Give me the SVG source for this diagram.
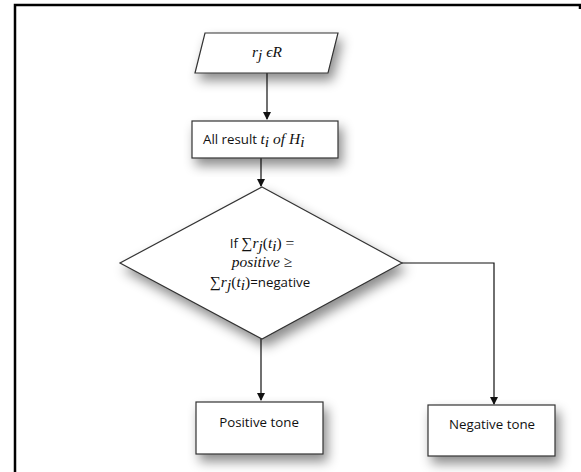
<svg xmlns="http://www.w3.org/2000/svg" width="581" height="472" viewBox="0 0 581 472">
<style>
.shape{fill:#fff;stroke:#333;stroke-width:1.2;filter:url(#sh)}
.conn{fill:none;stroke:#111;stroke-width:1.2}
.t{font-family:"Open Sans","Liberation Sans",sans-serif;font-size:13.3px;fill:#111}
.m{font-family:"Liberation Serif","DejaVu Serif",serif;font-style:italic;font-size:15.5px;fill:#111}
.mu{font-family:"Liberation Serif","DejaVu Serif",serif;font-size:15.5px;fill:#111}
</style>
<defs>
<filter id="sh" x="-20%" y="-20%" width="150%" height="170%">
<feDropShadow dx="4" dy="7" stdDeviation="6" flood-color="#000" flood-opacity="0.45"/>
</filter>
<marker id="ah" markerWidth="8" markerHeight="8" refX="7" refY="4" orient="auto" markerUnits="userSpaceOnUse">
<path d="M0,0 L8,4 L0,8 z" fill="#111"/>
</marker>
</defs>
<rect width="581" height="472" fill="#fff"/>
<path d="M15,472 V5 H580 V9" fill="none" stroke="#000" stroke-width="2.5"/>
<g id="connectors">
<path class="conn" d="M267,73 V119" marker-end="url(#ah)"/>
<path class="conn" d="M261,158 V186" marker-end="url(#ah)"/>
<path class="conn" d="M261,339 V400" marker-end="url(#ah)"/>
<path class="conn" d="M402,263 H494 V404" marker-end="url(#ah)"/>
</g>
<g id="input">
<polygon class="shape" points="205,33 338,33 328,73 195,73"/>
<text x="267" y="57" text-anchor="middle"><tspan class="m">r</tspan><tspan class="m" font-size="10.5" dy="3">j</tspan><tspan class="m" dy="-3"> ϵR</tspan></text>
</g>
<g id="results">
<rect class="shape" x="192" y="121" width="146" height="37"/>
<text x="203" y="144"><tspan class="t">All result </tspan><tspan class="m">t</tspan><tspan class="m" font-size="10.5" dy="3">i</tspan><tspan class="m" dy="-3"> of  H</tspan><tspan class="m" font-size="10.5" dy="3">i</tspan></text>
</g>
<g id="decision">
<polygon class="shape" points="262,187 402,263 262,339 120,263"/>
<text x="262" y="248" text-anchor="middle"><tspan class="t">If </tspan><tspan class="mu">∑</tspan><tspan class="m">r</tspan><tspan class="m" font-size="10.5" dy="3">j</tspan><tspan class="mu" dy="-3">(</tspan><tspan class="m">t</tspan><tspan class="m" font-size="10.5" dy="3">i</tspan><tspan class="mu" dy="-3">) =</tspan></text>
<text x="262" y="267" text-anchor="middle"><tspan class="m">positive </tspan><tspan class="mu">≥</tspan></text>
<text x="260" y="287" text-anchor="middle"><tspan class="mu">∑</tspan><tspan class="m">r</tspan><tspan class="m" font-size="10.5" dy="3">j</tspan><tspan class="mu" dy="-3">(</tspan><tspan class="m">t</tspan><tspan class="m" font-size="10.5" dy="3">i</tspan><tspan class="mu" dy="-3">)</tspan><tspan class="t">=negative</tspan></text>
</g>
<g id="positive">
<rect class="shape" x="196" y="402" width="127" height="52"/>
<text class="t" x="259" y="427" text-anchor="middle">Positive tone</text>
</g>
<g id="negative">
<rect class="shape" x="428" y="405" width="127" height="51"/>
<text class="t" x="492" y="429" text-anchor="middle">Negative tone</text>
</g>
</svg>
